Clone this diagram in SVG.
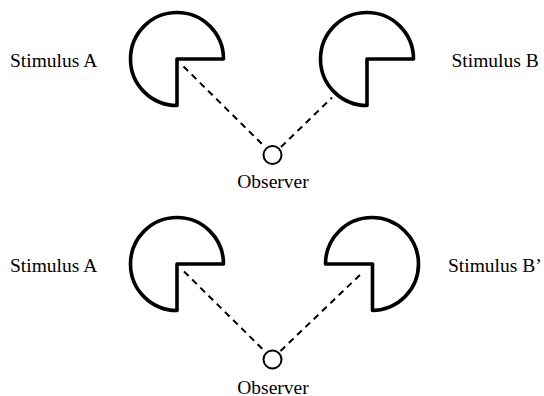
<svg xmlns="http://www.w3.org/2000/svg" width="544" height="396" viewBox="0 0 544 396">
<style>
.pac{fill:#fff;stroke:#000;stroke-width:3.6;stroke-linejoin:round;stroke-linecap:round}
.obs{fill:#fff;stroke:#000;stroke-width:2}
.sight{fill:none;stroke:#000;stroke-width:2;stroke-dasharray:6.5 5}
text{font-family:"Liberation Serif","Times New Roman",serif;font-size:19.5px;fill:#000}
.mid{text-anchor:middle}
</style>
<rect width="544" height="396" fill="#fff"/>
<g id="connectors">
<line class="sight" x1="183.5" y1="66.5" x2="265" y2="147"/>
<line class="sight" x1="281" y1="147" x2="332" y2="97.5"/>
<line class="sight" x1="184" y1="271.5" x2="264.5" y2="351"/>
<line class="sight" x1="280.5" y1="351" x2="363" y2="272"/>
</g>
<g id="stimulusA1">
<path class="pac" d="M177,105.5 A46.5,46.5 0 1 1 223.5,59 L177,59 Z"/>
<text x="10" y="67">Stimulus A</text>
</g>
<g id="stimulusB1">
<path class="pac" d="M367,105.5 A46.5,46.5 0 1 1 413.5,59 L367,59 Z"/>
<text x="451.5" y="67">Stimulus B</text>
</g>
<g id="observer1">
<circle class="obs" cx="272.5" cy="155" r="9"/>
<text class="mid" x="273" y="187.5">Observer</text>
</g>
<g id="stimulusA2">
<path class="pac" d="M177,310.5 A46.5,46.5 0 1 1 223.5,264 L177,264 Z"/>
<text x="10" y="272">Stimulus A</text>
</g>
<g id="stimulusB2">
<path class="pac" d="M325.5,264 A46.5,46.5 0 1 1 372.5,310.5 L372.5,264 Z"/>
<text x="448" y="272">Stimulus B’</text>
</g>
<g id="observer2">
<circle class="obs" cx="272.5" cy="359.5" r="9"/>
<text class="mid" x="273" y="393.5">Observer</text>
</g>
</svg>
